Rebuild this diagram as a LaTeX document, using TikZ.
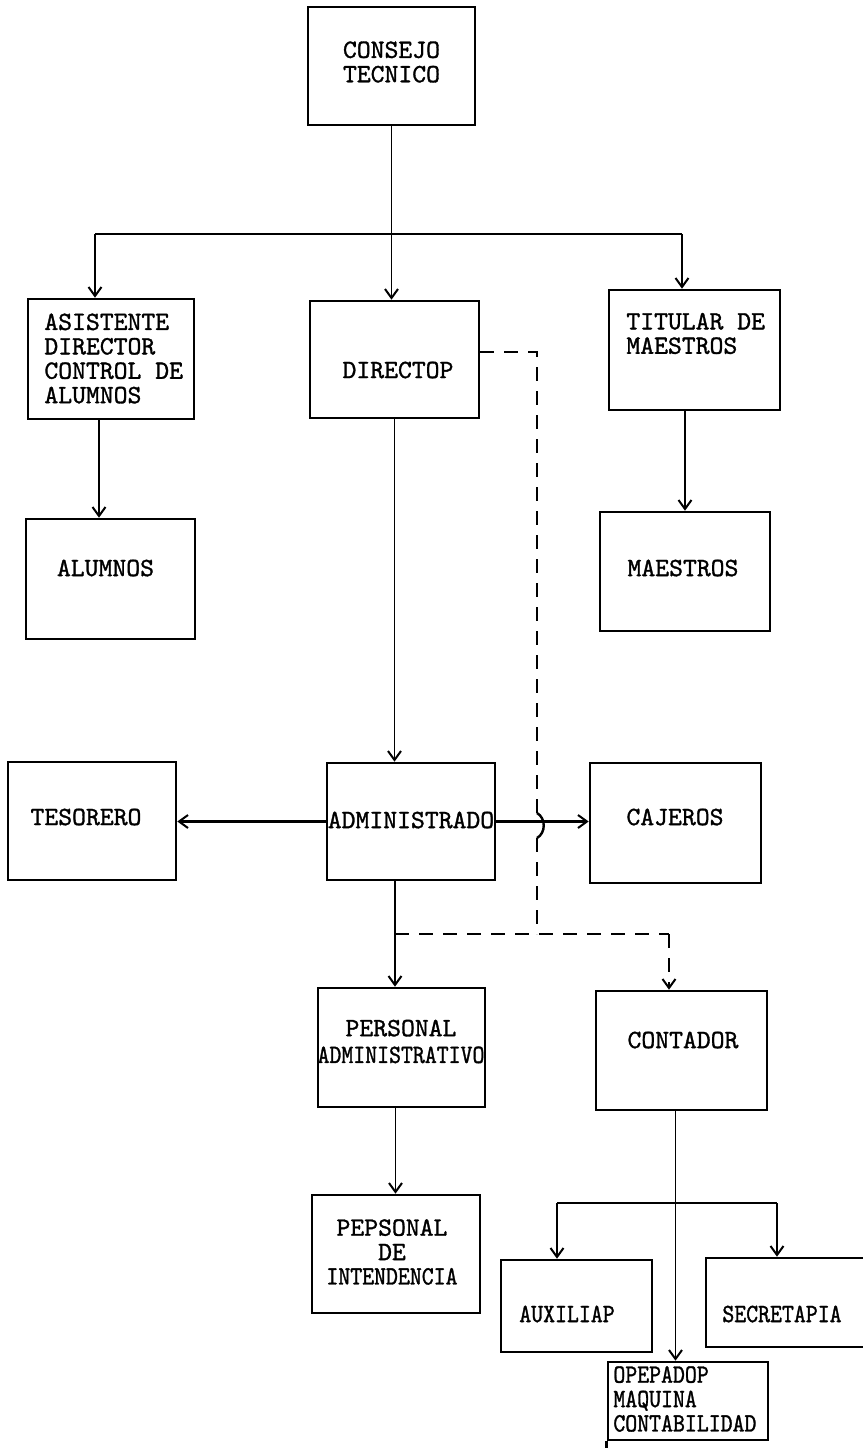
\documentclass[tikz,border=0pt]{standalone}
\usepackage{fontspec}
\newfontfamily\tw[FakeBold=1.2]{lmmono10-regular.otf}
\newfontfamily\twn[FakeStretch=0.86,FakeBold=1.2]{lmmono10-regular.otf}
\usetikzlibrary{arrows.meta,fit,calc}
\begin{document}
\begin{tikzpicture}[x=0.5pt,y=-0.5pt,
  box/.style={draw,line width=1.3pt,inner sep=0pt},
  lbl/.style={inner sep=0pt,font=\tw\fontsize{13.2}{12.2}\selectfont},
  nlbl/.style={inner sep=0pt,font=\twn\fontsize{13.2}{12.2}\selectfont},
  conn/.style={line width=0.95pt},
  arr/.style={conn,-{Straight Barb[length=4.5pt,width=6.5pt,line width=1pt]}},
  dsh/.style={line width=1.35pt,dash pattern=on 7pt off 5pt}
]
\fill[white] (0,0) rectangle (863,1448);
\useasboundingbox (0,0) rectangle (863,1448);

% boxes
\node[box,fit={(308,7) (475,125)}] (cons) {};
\node[box,fit={(28,299) (194,419)}] (asis) {};
\node[box,fit={(310,301) (479,418)}] (dir) {};
\node[box,fit={(609,290) (780,410)}] (tit) {};
\node[box,fit={(26,519) (195,639)}] (alum) {};
\node[box,fit={(600,512) (770,631)}] (maes) {};
\node[box,fit={(8,762) (176,880)}] (tes) {};
\node[box,fit={(327,763) (495,880)}] (adm) {};
\node[box,fit={(590,763) (761,883)}] (caj) {};
\node[box,fit={(318,988) (485,1107)}] (padm) {};
\node[box,fit={(596,991) (767,1110)}] (cont) {};
\node[box,fit={(312,1195) (480,1313)}] (pint) {};
\node[box,fit={(501,1260) (652,1352)}] (aux) {};
\node[box,fit={(706,1258) (867,1347)}] (sec) {};
\node[box,fit={(608,1362) (768,1440)}] (oper) {};
\draw[line width=1.3pt] (oper.south west) -- ++(0,9);

% texts
\node[lbl,align=center] (tcons) at (391.5,62) {CONSEJO\\TECNICO};
\node[lbl,align=left,anchor=west] (tasis) at (44,358.5) {ASISTENTE\\DIRECTOR\\CONTROL DE\\ALUMNOS};
\node[lbl] (tdir) at (398,370) {DIRECTOP};
\node[lbl,align=left,anchor=west] (ttit) at (626,333.5) {TITULAR DE\\MAESTROS};
\node[lbl] (talum) at (105.5,568) {ALUMNOS};
\node[lbl] (tmaes) at (683,568) {MAESTROS};
\node[lbl] (ttes) at (86,817) {TESORERO};
\node[lbl] (tadm) at (411,820) {ADMINISTRADO};
\node[lbl] (tcaj) at (675,817) {CAJEROS};
\node[lbl,align=center] (tpadm) at (401,1041.5) {PERSONAL\\[1.2pt]{\twn ADMINISTRATIVO}};
\node[lbl] (tcont) at (683,1040) {CONTADOR};
\node[lbl,align=center] (tpint) at (392,1252) {PEPSONAL\\DE\\{\twn INTENDENCIA}};
\node[nlbl] (taux) at (567,1314) {AUXILIAP};
\node[nlbl] (tsec) at (782,1314) {SECRETAPIA};
\node[nlbl,align=left,anchor=west] (toper) at (613,1399) {OPEPADOP\\MAQUINA\\CONTABILIDAD};

% top bus
\coordinate (b1) at (95,234);
\coordinate (b2) at (682,234);
\draw[conn,line width=1.1pt] (b1) -- (b2);
\draw[arr] (cons.south) -- (cons.south |- dir.north);
\draw[arr] (b1) -- (b1 |- asis.north);
\draw[arr,line width=1.2pt] (b2) -- (b2 |- tit.north);

\draw[arr] ([xshift=-6pt]asis.south) -- ([xshift=-6pt]asis.south |- alum.north);
\draw[arr,line width=1.2pt] (tit.south -| maes.north) -- (maes.north);
\draw[arr] (dir.south) -- (dir.south |- adm.north);

% administrador
\draw[arr,line width=1.1pt] (adm.west) -- (adm.west -| tes.east);
\draw[arr,line width=1.1pt] (adm.east) -- (adm.east -| caj.west);
\coordinate (ad) at ([xshift=-8pt]adm.south);
\draw[arr,line width=1.1pt] (ad) -- (ad |- padm.north);
\draw[arr] ([xshift=-3pt]padm.south) -- ([xshift=-3pt]padm.south |- pint.north);

% dashed lines
\coordinate (hopT) at (537,813);
\coordinate (hopB) at (537,838);
\coordinate (dc) at (537,934);
\coordinate (jad) at (ad |- dc);
\coordinate (dcont) at (669,934);
\draw[dsh] ([yshift=3.75pt]dir.east) -| (hopT);
\draw[line width=1.2pt] (hopT) .. controls (546,818) and (546,833) .. (hopB);
\draw[dsh] (hopB) -- (dc);
\draw[dsh] (jad) -- (dcont);
\draw[dsh,-{Straight Barb[length=4.5pt,width=6.5pt,line width=1pt]}] (dcont) -- (dcont |- cont.north);

% contador
\coordinate (cd) at ([xshift=-3pt]cont.south);
\draw[arr] (cd) -- (cd |- oper.north);
\coordinate (s1) at (557,1203);
\coordinate (s2) at (777,1203);
\draw[conn,line width=1.2pt] (s1) -- (s2);
\draw[arr,line width=1.1pt] (s1) -- (s1 |- aux.north);
\draw[arr,line width=1.1pt] (s2) -- (s2 |- sec.north);
\end{tikzpicture}
\end{document}
